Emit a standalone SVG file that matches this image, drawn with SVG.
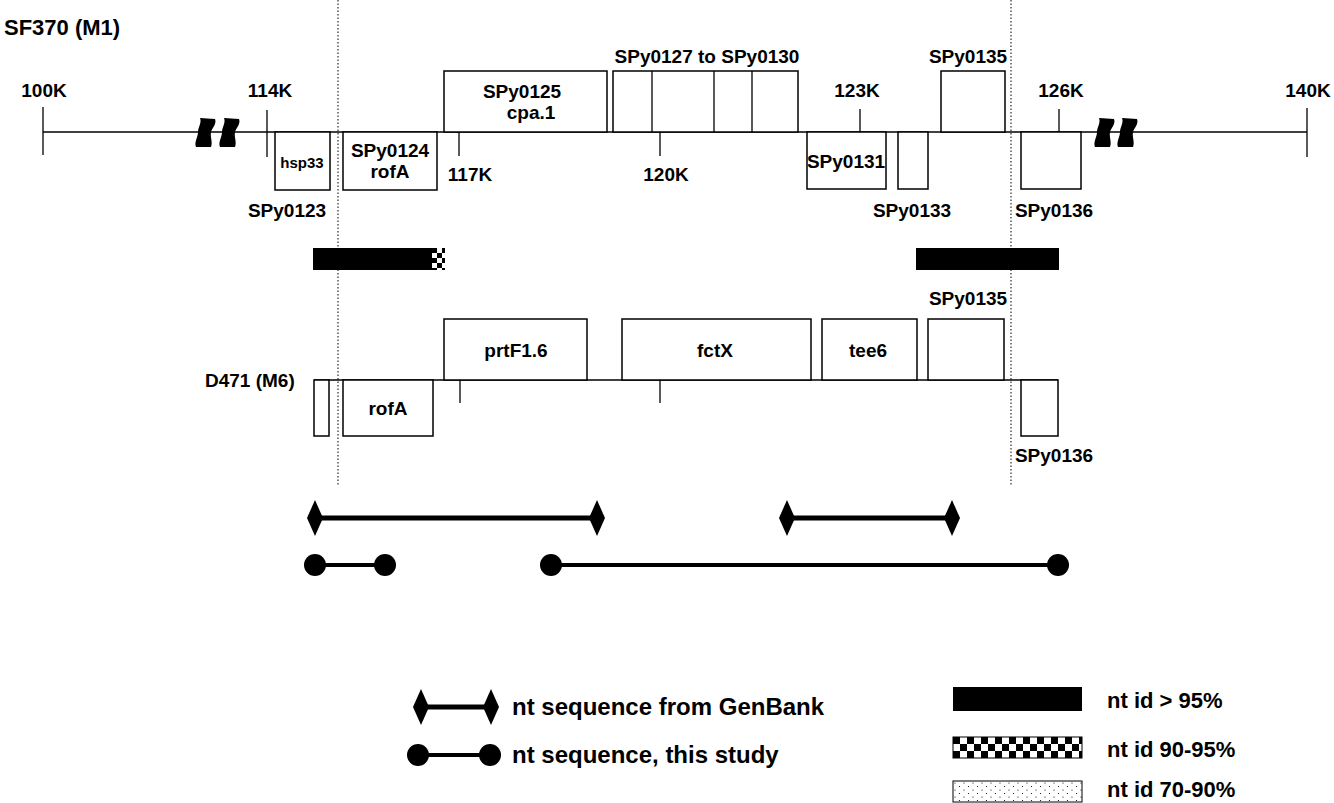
<svg xmlns="http://www.w3.org/2000/svg" width="1334" height="803" viewBox="0 0 1334 803">
<defs>
<style>
text{font-family:"Liberation Sans",Arial,sans-serif;font-weight:bold;fill:#000}
.t{font-size:19px}
.s{font-size:15px}
.big{font-size:22px}
.lg{font-size:24px}
.lr{font-size:22px}
.m{text-anchor:middle}
.box{fill:#fff;stroke:#000;stroke-width:1.5}
.axis{stroke:#000;stroke-width:1.5;fill:none}
.tick{stroke:#000;stroke-width:1.3}
.guide{stroke:#000;stroke-width:1;stroke-dasharray:1.5 2}
.gb{stroke:#000;stroke-width:5}
.ts{stroke:#000;stroke-width:4}
</style>
<pattern id="checker" x="953" y="737" width="14" height="14" patternUnits="userSpaceOnUse">
<rect width="14" height="14" fill="#fff"/>
<rect width="7" height="7" fill="#000"/>
<rect x="7" y="7" width="7" height="7" fill="#000"/>
</pattern>
<pattern id="checker2" x="432" y="248" width="10" height="10" patternUnits="userSpaceOnUse">
<rect width="10" height="10" fill="#000"/>
<rect x="5" width="5" height="5" fill="#fff"/>
<rect y="5" width="5" height="5" fill="#fff"/>
</pattern>
<pattern id="dots" x="953" y="781" width="9" height="7" patternUnits="userSpaceOnUse">
<rect width="9" height="7" fill="#fff"/>
<circle cx="2" cy="2" r="0.6" fill="#000"/>
<circle cx="6.5" cy="5.5" r="0.6" fill="#000"/>
</pattern>
<marker id="dia" viewBox="-8 -18 16 36" markerWidth="16" markerHeight="36" markerUnits="userSpaceOnUse" orient="auto"><path d="M-8 0 L0 -18 L8 0 L0 18 Z" fill="#000"/></marker>
<marker id="dot" viewBox="-11 -11 22 22" markerWidth="22" markerHeight="22" markerUnits="userSpaceOnUse" orient="auto"><circle r="11" fill="#000"/></marker>
<path id="brk" d="M5,0 L20,1 C22,6 17,10 16,14 C15,19 18,24 16,29 L1,29 C-1,24 3,19 3,14 C3,9 7,5 5,0 Z" fill="#000"/>
</defs>
<rect width="1334" height="803" fill="#fff"/>

<!-- guides -->
<g id="guides">
<line class="guide" x1="338" y1="0" x2="338" y2="486"/>
<line class="guide" x1="1011" y1="0" x2="1011" y2="486"/>
</g>

<!-- SF370 map -->
<g id="sf370">
<text class="big" x="4" y="35">SF370 (M1)</text>
<line class="axis" x1="43" y1="132" x2="1307" y2="132"/>
<use href="#brk" x="195" y="118"/>
<use href="#brk" x="219" y="118"/>
<use href="#brk" x="1094" y="118"/>
<use href="#brk" x="1117" y="118"/>
</g>
<g id="ticks">
<line class="tick" x1="43" y1="107" x2="43" y2="155"/>
<text class="t m" x="44" y="97">100K</text>
<line class="tick" x1="267" y1="110" x2="267" y2="157"/>
<text class="t m" x="270" y="97">114K</text>
<line class="tick" x1="459" y1="132" x2="459" y2="156"/>
<text class="t m" x="470" y="181">117K</text>
<line class="tick" x1="660" y1="132" x2="660" y2="156"/>
<text class="t m" x="666" y="181">120K</text>
<line class="tick" x1="860" y1="109" x2="860" y2="132"/>
<text class="t m" x="857" y="97">123K</text>
<line class="tick" x1="1059" y1="109" x2="1059" y2="132"/>
<text class="t m" x="1061" y="97">126K</text>
<line class="tick" x1="1307" y1="108" x2="1307" y2="157"/>
<text class="t m" x="1308" y="97">140K</text>
</g>
<g id="hsp33">
<rect class="box" x="275" y="132" width="55" height="58"/>
<text class="s m" x="302" y="168">hsp33</text>
<text class="t m" x="287" y="217">SPy0123</text>
</g>
<g id="spy0124">
<rect class="box" x="343" y="132" width="94" height="58"/>
<text class="t m" x="390" y="157">SPy0124</text>
<text class="t m" x="390" y="178">rofA</text>
</g>
<g id="spy0125">
<rect class="box" x="444" y="71" width="163" height="61"/>
<text class="t m" x="522" y="98">SPy0125</text>
<text class="t m" x="531" y="119">cpa.1</text>
</g>
<g id="spy0127-0130">
<rect class="box" x="613" y="71" width="185" height="61"/>
<line class="tick" x1="652" y1="71" x2="652" y2="132"/>
<line class="tick" x1="714" y1="71" x2="714" y2="132"/>
<line class="tick" x1="752" y1="71" x2="752" y2="132"/>
<text class="t m" x="707" y="63">SPy0127 to SPy0130</text>
</g>
<g id="spy0131">
<rect class="box" x="807" y="132" width="79" height="57"/>
<text class="t m" x="846" y="168">SPy0131</text>
</g>
<g id="spy0133">
<rect class="box" x="898" y="132" width="30" height="57"/>
<text class="t m" x="912" y="217">SPy0133</text>
</g>
<g id="spy0135">
<rect class="box" x="941" y="71" width="64" height="61"/>
<text class="t m" x="968" y="63">SPy0135</text>
</g>
<g id="spy0136">
<rect class="box" x="1021" y="132" width="60" height="57"/>
<text class="t m" x="1054" y="217">SPy0136</text>
</g>

<!-- identity bars -->
<g id="bar-left">
<rect x="313" y="248" width="120" height="22" fill="#000"/>
<rect x="432" y="248" width="13" height="22" fill="url(#checker2)"/>
</g>
<g id="bar-right">
<rect x="916" y="248" width="143" height="22" fill="#000"/>
</g>

<!-- D471 map -->
<g id="d471">
<text class="t" x="205" y="387">D471 (M6)</text>
<line class="axis" x1="314" y1="380" x2="1058" y2="380"/>
<line class="tick" x1="460" y1="380" x2="460" y2="403"/>
<line class="tick" x1="660" y1="380" x2="660" y2="403"/>
</g>
<g id="d-small">
<rect class="box" x="314" y="380" width="15" height="56"/>
</g>
<g id="d-rofA">
<rect class="box" x="343" y="380" width="90" height="56"/>
<text class="t m" x="388" y="415">rofA</text>
</g>
<g id="d-prtF">
<rect class="box" x="444" y="319" width="143" height="61"/>
<text class="t m" x="516" y="357">prtF1.6</text>
</g>
<g id="d-fctX">
<rect class="box" x="622" y="319" width="189" height="61"/>
<text class="t m" x="715" y="357">fctX</text>
</g>
<g id="d-tee6">
<rect class="box" x="822" y="319" width="95" height="61"/>
<text class="t m" x="868" y="357">tee6</text>
</g>
<g id="d-spy0135">
<rect class="box" x="928" y="319" width="76" height="61"/>
<text class="t m" x="968" y="305">SPy0135</text>
</g>
<g id="d-spy0136">
<rect class="box" x="1021" y="380" width="37" height="56"/>
<text class="t m" x="1054" y="462">SPy0136</text>
</g>

<!-- sequence coverage connectors -->
<g id="connectors">
<line class="gb" x1="315" y1="518" x2="597" y2="518" marker-start="url(#dia)" marker-end="url(#dia)"/>
<line class="gb" x1="787" y1="518" x2="952" y2="518" marker-start="url(#dia)" marker-end="url(#dia)"/>
<line class="ts" x1="315" y1="565" x2="385" y2="565" marker-start="url(#dot)" marker-end="url(#dot)"/>
<line class="ts" x1="551" y1="565" x2="1058" y2="565" marker-start="url(#dot)" marker-end="url(#dot)"/>
</g>

<!-- legend -->
<g id="legend-genbank">
<line class="gb" x1="421" y1="707" x2="491" y2="707" marker-start="url(#dia)" marker-end="url(#dia)"/>
<text class="lg" x="512" y="715">nt sequence from GenBank</text>
</g>
<g id="legend-study">
<line class="ts" x1="418" y1="755" x2="490" y2="755" marker-start="url(#dot)" marker-end="url(#dot)"/>
<text class="lg" x="512" y="763">nt sequence, this study</text>
</g>
<g id="legend-95">
<rect x="953" y="687" width="129" height="24" fill="#000"/>
<text class="lr" x="1107" y="708">nt id &gt; 95%</text>
</g>
<g id="legend-90">
<rect x="953" y="737" width="129" height="21" fill="url(#checker)" stroke="#000" stroke-width="1"/>
<text class="lr" x="1107" y="757">nt id 90-95%</text>
</g>
<g id="legend-70">
<rect x="953" y="781" width="129" height="21" fill="url(#dots)" stroke="#000" stroke-width="1"/>
<text class="lr" x="1107" y="797">nt id 70-90%</text>
</g>
</svg>
